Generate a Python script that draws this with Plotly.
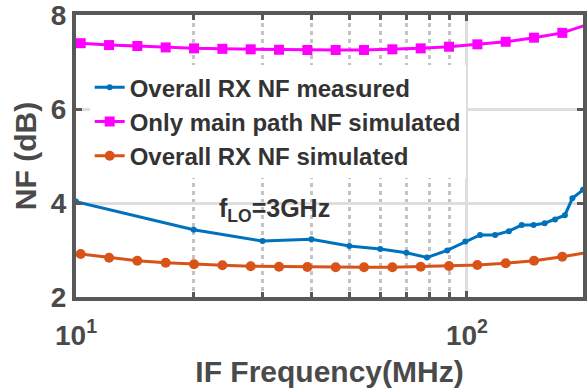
import plotly.graph_objects as go

# Measured overall RX NF
meas_f = [10, 20, 30, 40, 50, 60, 70, 79, 89, 99, 108, 118, 128, 138, 148, 158, 168, 178, 186, 198]
meas_nf = [4.03, 3.43, 3.19, 3.23, 3.085, 3.02, 2.94, 2.84, 2.99, 3.18, 3.32, 3.32, 3.40, 3.53, 3.53, 3.57, 3.65, 3.74, 4.10, 4.28]

# Simulated frequencies (log spaced)
sim_f = [10.28, 12.15, 14.35, 16.96, 20.04, 23.68, 27.98, 33.06, 39.06, 46.15,
         54.53, 64.43, 76.13, 89.95, 106.3, 125.6, 148.4, 175.3, 207.2]
main_nf = [7.40, 7.36, 7.34, 7.31, 7.29, 7.28, 7.27, 7.26, 7.255, 7.255,
           7.255, 7.27, 7.29, 7.325, 7.376, 7.43, 7.517, 7.62, 7.82]
sim_nf = [2.915, 2.836, 2.772, 2.73, 2.696, 2.674, 2.653, 2.645, 2.638, 2.632,
          2.632, 2.632, 2.645, 2.66, 2.68, 2.717, 2.772, 2.857, 2.96]

x_major = [10, 100]
x_major_text = ["10<sup>1</sup>", "10<sup>2</sup>"]
x_minor = [20, 30, 40, 50, 60, 70, 80, 90]
y_ticks = [2, 4, 6, 8]

AX = "#585858"
TXT = "#4a4a4a"
FONT = "Liberation Sans, Arial, sans-serif"

fig = go.Figure()
fig.add_trace(go.Scatter(x=meas_f, y=meas_nf, mode="lines+markers",
                         name="Overall RX NF measured",
                         line=dict(color="#0072BD", width=3),
                         marker=dict(color="#0072BD", size=6, symbol="circle")))
fig.add_trace(go.Scatter(x=sim_f, y=main_nf, mode="lines+markers",
                         name="Only main path NF simulated",
                         line=dict(color="#FF00FF", width=3),
                         marker=dict(color="#FF00FF", size=10, symbol="square")))
fig.add_trace(go.Scatter(x=sim_f, y=sim_nf, mode="lines+markers",
                         name="Overall RX NF simulated",
                         line=dict(color="#D95319", width=3),
                         marker=dict(color="#D95319", size=10, symbol="circle")))

fig.add_annotation(x=1.3606, y=3.85, xref="x", yref="y",
                   text="f<sub>LO</sub>=3GHz", showarrow=False,
                   xanchor="left", yanchor="middle",
                   font=dict(family=FONT, size=25, color="#333333", weight="bold"))

fig.update_layout(
    width=588, height=388,
    margin=dict(l=76, r=5, t=15, b=91, autoexpand=False),
    paper_bgcolor="white", plot_bgcolor="white",
    font=dict(family=FONT, color=TXT, weight="bold"),
    showlegend=True,
    legend=dict(x=0.027, y=0.822, xanchor="left", yanchor="top",
                bgcolor="white", borderwidth=0,
                font=dict(family=FONT, size=24, color="#333333", weight="bold"),
                tracegroupgap=0, itemwidth=30),
)
fig.update_xaxes(
    type="log", range=[1, 2.2967], automargin=False,
    tickvals=x_major, ticktext=x_major_text,
    ticks="inside", ticklen=6, tickwidth=3, tickcolor=AX,
    ticklabelstandoff=10,
    showline=True, linecolor=AX, linewidth=4, mirror="ticks",
    showgrid=True, gridcolor="#dedede", gridwidth=3,
    tickfont=dict(family=FONT, size=28, color=TXT, weight="bold"),
    title=dict(text="IF Frequency(MHz)", standoff=20,
               font=dict(family=FONT, size=30, color=TXT, weight="bold")),
    minor=dict(tickvals=x_minor, ticks="inside", ticklen=5, tickwidth=3, tickcolor=AX,
               showgrid=True, gridcolor="#c4c4c4", gridwidth=3, griddash="4px,4px"),
    zeroline=False,
)
fig.update_yaxes(
    range=[1.9999, 8.0001], tickvals=y_ticks, automargin=False,
    ticks="inside", ticklen=6, tickwidth=3, tickcolor=AX,
    ticklabeloverflow="allow",
    showline=True, linecolor=AX, linewidth=4, mirror="ticks",
    showgrid=True, gridcolor="#dedede", gridwidth=3,
    tickfont=dict(family=FONT, size=28, color=TXT, weight="bold"),
    title=dict(text="NF (dB)", standoff=6,
               font=dict(family=FONT, size=30, color=TXT, weight="bold")),
    zeroline=False,
)

fig.write_html("out.html")
